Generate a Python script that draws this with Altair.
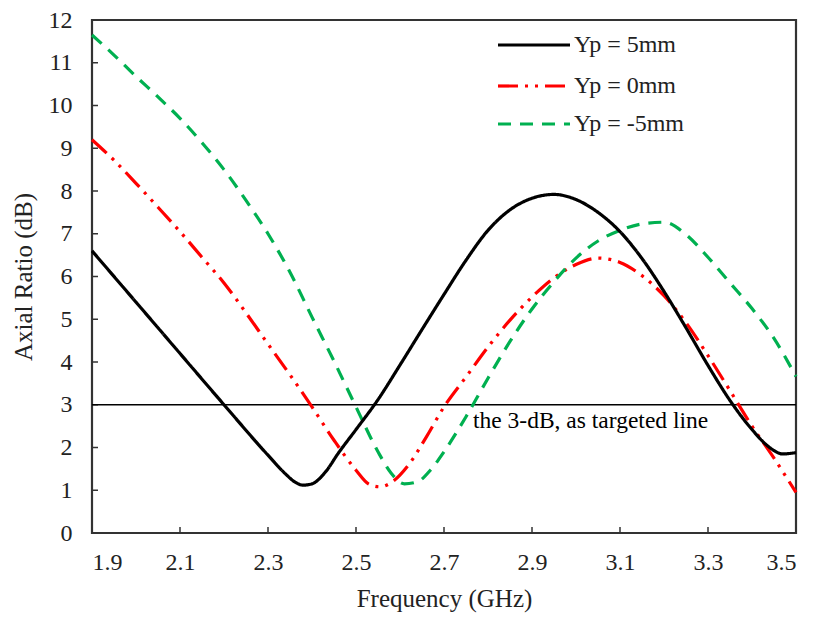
import altair as alt
import pandas as pd

# ---- data ----
freq_5 = [1.9, 2.0, 2.1, 2.2, 2.3, 2.34, 2.36, 2.38, 2.4, 2.43, 2.46, 2.5, 2.55, 2.6, 2.65,
          2.7, 2.75, 2.8, 2.85, 2.9, 2.95, 3.0, 3.05, 3.1, 3.15, 3.2, 3.25, 3.3, 3.35, 3.4,
          3.44, 3.47, 3.5]
ar_5 = [6.6, 5.4, 4.2, 3.0, 1.82, 1.38, 1.2, 1.12, 1.15, 1.42, 1.87, 2.42, 3.12, 3.93, 4.76,
        5.58, 6.38, 7.08, 7.56, 7.83, 7.92, 7.8, 7.5, 7.05, 6.42, 5.65, 4.8, 3.92, 3.1, 2.42,
        2.0, 1.85, 1.88]

freq_0 = [1.9, 1.95, 2.0, 2.05, 2.1, 2.15, 2.2, 2.25, 2.3, 2.35, 2.4, 2.45, 2.5, 2.53, 2.555,
          2.58, 2.62, 2.66, 2.7, 2.75, 2.8, 2.85, 2.9, 2.95, 3.0, 3.05, 3.1, 3.15, 3.2, 3.25,
          3.3, 3.35, 3.4, 3.45, 3.5]
ar_0 = [9.2, 8.72, 8.18, 7.62, 7.05, 6.45, 5.85, 5.15, 4.42, 3.7, 2.95, 2.17, 1.47, 1.14, 1.08,
        1.18, 1.6, 2.25, 2.95, 3.65, 4.35, 4.98, 5.52, 5.97, 6.28, 6.43, 6.33, 6.02, 5.55, 4.92,
        4.15, 3.33, 2.5, 1.75, 0.95]

freq_m5 = [1.9, 1.95, 2.0, 2.05, 2.1, 2.15, 2.2, 2.25, 2.3, 2.35, 2.4, 2.45, 2.5, 2.55, 2.58,
           2.61, 2.64, 2.67, 2.7, 2.75, 2.8, 2.85, 2.9, 2.95, 3.0, 3.05, 3.1, 3.15, 3.2, 3.25,
           3.3, 3.35, 3.4, 3.45, 3.5]
ar_m5 = [11.65, 11.18, 10.68, 10.2, 9.7, 9.13, 8.5, 7.78, 7.0, 6.1, 5.05, 4.02, 2.95, 1.9, 1.4,
         1.15, 1.2, 1.48, 1.9, 2.72, 3.62, 4.48, 5.24, 5.88, 6.43, 6.83, 7.08, 7.23, 7.27, 6.98,
         6.45, 5.85, 5.25, 4.55, 3.66]

series_names = ["Yp = 5mm", "Yp = 0mm", "Yp = -5mm"]
series_colors = ["#000000", "#FF0000", "#00B050"]
series_dash = [[1, 0], [20, 7, 3, 7, 3, 7], [13, 9]]

x_ticks = [1.9, 2.1, 2.3, 2.5, 2.7, 2.9, 3.1, 3.3, 3.5]
y_ticks = list(range(0, 13))
target_db = 3
annotation = "the 3-dB, as targeted line"

FONT = "Liberation Serif"
W, H = 704, 513

rows = []
for name, fs, vs in zip(series_names, [freq_5, freq_0, freq_m5], [ar_5, ar_0, ar_m5]):
    for f, v in zip(fs, vs):
        rows.append({"series": name, "freq": f, "ar": v})
df = pd.DataFrame(rows)

xscale = alt.Scale(domain=[1.9, 3.5], nice=False, zero=False)
yscale = alt.Scale(domain=[0, 12], nice=False)

xaxis = alt.Axis(values=x_ticks, format=".1f", title="Frequency (GHz)", grid=False,
                 tickSize=0, domain=False, labelPadding=17, labelFontSize=24,
                 titleFontSize=25, titlePadding=12, labelFont=FONT, titleFont=FONT,
                 labelColor="#222", titleColor="#222", titleFontWeight="normal")
yaxis = alt.Axis(values=y_ticks, title="Axial Ratio (dB)", grid=False, tickSize=0,
                 domain=False, labelPadding=20, labelFontSize=24, titleFontSize=25,
                 titlePadding=12, labelFont=FONT, titleFont=FONT,
                 labelColor="#222", titleColor="#222", titleFontWeight="normal")


def X(field):
    return alt.X(field, scale=xscale, axis=xaxis)


def Y(field):
    return alt.Y(field, scale=yscale, axis=yaxis)


layers = []

# inward ticks
xt = pd.DataFrame({"t": x_ticks})
yt = pd.DataFrame({"t": y_ticks})
layers.append(alt.Chart(xt).mark_rule(color="#333", strokeWidth=1.5).encode(
    x=X("t:Q"), y=alt.value(H), y2=alt.value(H - 6)))
layers.append(alt.Chart(yt).mark_rule(color="#333", strokeWidth=1.5).encode(
    y=Y("t:Q"), x=alt.value(0), x2=alt.value(6)))

# 3 dB line
layers.append(alt.Chart(pd.DataFrame({"v": [target_db]})).mark_rule(
    color="#000", strokeWidth=1.3).encode(y=Y("v:Q")))

# curves: red, green, black order
for idx in [1, 2, 0]:
    name = series_names[idx]
    layers.append(alt.Chart(df).transform_filter(alt.datum.series == name).mark_line(
        color=series_colors[idx], strokeWidth=3.2, strokeDash=series_dash[idx],
        interpolate="monotone").encode(
        x=X("freq:Q"), y=Y("ar:Q"), order="freq:Q"))

# annotation
layers.append(alt.Chart(pd.DataFrame({"txt": [annotation], "fx": [2.766], "fy": [2.63]})).mark_text(
    align="left", baseline="middle", font=FONT, fontSize=23.5, color="#000").encode(
    x=X("fx:Q"), y=Y("fy:Q"), text="txt:N"))

# manual legend
leg_y = [25, 66, 104]
for i, name in enumerate(series_names):
    ld = pd.DataFrame({"series": [name]})
    layers.append(alt.Chart(ld).mark_rule(color=series_colors[i], strokeWidth=3.2,
                                          strokeDash=series_dash[i]).encode(
        x=alt.value(406), x2=alt.value(478), y=alt.value(leg_y[i])))
    layers.append(alt.Chart(ld).mark_text(align="left", baseline="middle", font=FONT,
                                          fontSize=24, color="#222").encode(
        x=alt.value(482), y=alt.value(leg_y[i]), text="series:N"))

chart = alt.layer(*layers).properties(
    width=W, height=H,
    autosize=alt.AutoSizeParams(type="none"),
    padding={"left": 92, "top": 20, "right": 20, "bottom": 86},
    background="white",
).configure_view(stroke="#333", strokeWidth=2.2)

chart.save("out.html", embed_options={"renderer": "svg", "actions": False})
